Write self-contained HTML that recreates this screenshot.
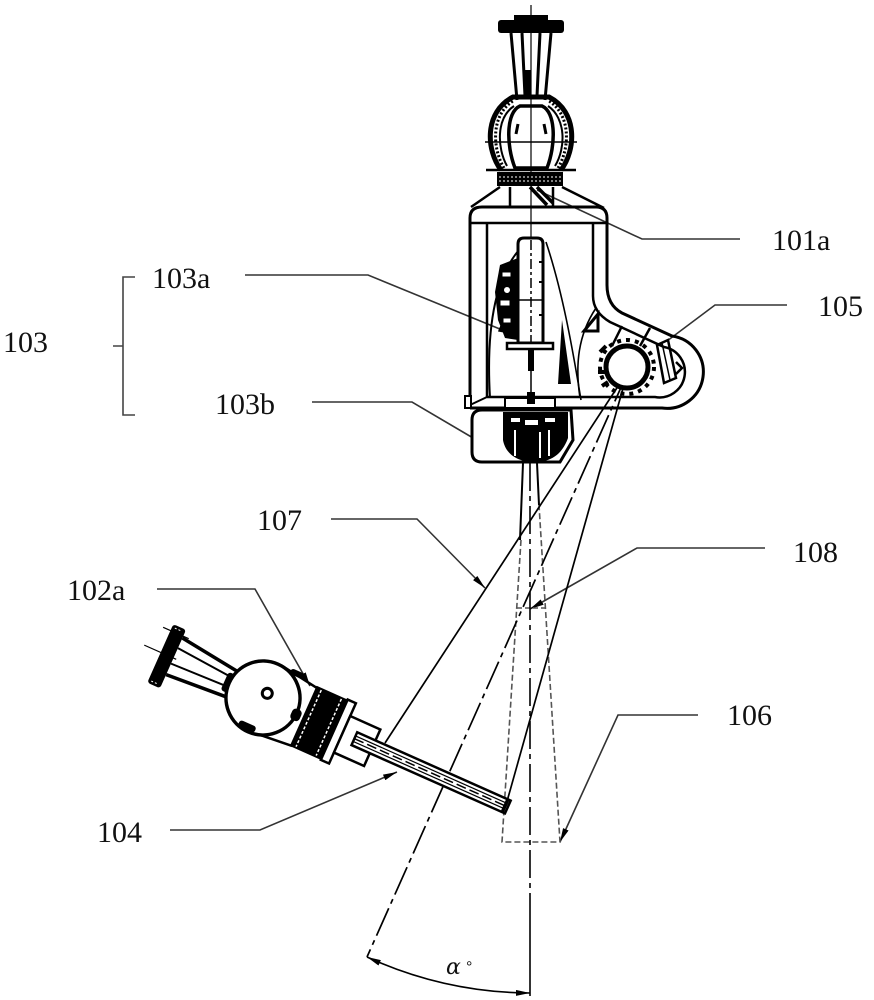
<!DOCTYPE html>
<html><head><meta charset="utf-8"><style>
html,body{margin:0;padding:0;background:#fff;}
svg{display:block}
.lb{font-family:"Liberation Serif",serif;font-size:30px;fill:#111}
</style></head><body>
<svg width="874" height="1000" viewBox="0 0 874 1000" xmlns="http://www.w3.org/2000/svg">
<defs>
<marker id="ah" markerUnits="userSpaceOnUse" viewBox="0 0 14 6" refX="14" refY="3" markerWidth="14" markerHeight="6" orient="auto-start-reverse"><path d="M0,0 L14,3 L0,6 Z" fill="#000"/></marker>
</defs>
<rect width="874" height="1000" fill="#fff"/>

<!-- ===== Labels ===== -->
<text class="lb" x="772" y="250">101a</text>
<text class="lb" x="818" y="316">105</text>
<text class="lb" x="152" y="288">103a</text>
<text class="lb" x="3" y="352">103</text>
<text class="lb" x="215" y="414">103b</text>
<text class="lb" x="257" y="530">107</text>
<text class="lb" x="67" y="600">102a</text>
<text class="lb" x="97" y="842">104</text>
<text class="lb" x="793" y="562">108</text>
<text class="lb" x="727" y="725">106</text>

<!-- brace -->
<path d="M135,277 L123,277 L123,415 L135,415 M123,346 L113,346" stroke="#444" stroke-width="1.6" fill="none"/>

<!-- leaders -->
<g stroke="#333" stroke-width="1.6" fill="none">
<path d="M740,239 L642,239 L537,190"/>
<path d="M787,305 L715,305 L667,341"/>
<path d="M245,275 L368,275 L512,334" marker-end="url(#ah)"/>
<path d="M312,402 L412,402 L485,445" marker-end="url(#ah)"/>
<path d="M331,519 L417,519 L485,588" marker-end="url(#ah)"/>
<path d="M157,589 L255,589 L310,686" marker-end="url(#ah)"/>
<path d="M170,830 L260,830 L397,772" marker-end="url(#ah)"/>
<path d="M765,548 L637,548 L530,609" marker-end="url(#ah)"/>
<path d="M698,715 L618,715 L560,842" marker-end="url(#ah)"/>
</g>

<!-- ===== beams / rays ===== -->
<g fill="none">
<path d="M523,463 L520,540 M537,463 L539,505" stroke="#000" stroke-width="2"/>
<path d="M521,540 L502,842 L560,842 L539,505" stroke="#555" stroke-width="1.6" stroke-dasharray="6,3"/>
<path d="M517,608 L547,608" stroke="#555" stroke-width="1.6" stroke-dasharray="5,3"/>
<path d="M530,463 L530,895" stroke="#000" stroke-width="1.6" stroke-dasharray="28,5,5,5"/>
<path d="M530,895 L530,996" stroke="#000" stroke-width="1.6"/>
<path d="M626,374 L385,743" stroke="#000" stroke-width="1.7"/>
<path d="M627,374 L506,805" stroke="#000" stroke-width="1.7"/>
<path d="M627,374 L367,957" stroke="#000" stroke-width="1.7" stroke-dasharray="30,5,5,5"/>
<path d="M367,957 A397,397 0 0 0 530,993" stroke="#000" stroke-width="1.6" marker-start="url(#ah)" marker-end="url(#ah)"/>
</g>
<text x="446" y="974" font-family="DejaVu Serif, serif" font-style="italic" font-size="22" fill="#111">α</text>
<text x="466" y="972" font-family="Liberation Sans, sans-serif" font-size="16" fill="#111">°</text>

<!-- ===== Top device ===== -->
<g stroke="#000" fill="none">
<line x1="531" y1="5" x2="531" y2="240" stroke-width="1.2"/>
<rect x="514" y="15" width="34" height="5" fill="#000" stroke="none"/>
<rect x="498" y="20" width="66" height="13" rx="3" fill="#000" stroke="none"/>
<path d="M511,33 L517,100 M522,33 L525,96 M551,33 L545,100 M540,33 L537,96" stroke-width="3"/>
<rect x="524" y="70" width="7" height="25" fill="#000" stroke="none"/>
<!-- clevis -->
<path d="M501,170 C486,150 484,112 513,97 L549,97 C578,112 576,150 561,170" stroke-width="5"/>
<path d="M507,166 C497,148 496,118 514,106 M555,166 C566,148 566,118 548,106" stroke-width="2"/>
<path d="M504,168 C492,148 491,115 513,101 M558,168 C570,148 571,115 549,101" stroke-width="3" stroke-dasharray="2,2"/>
<path d="M515,168 C506,145 506,112 520,106 L542,106 C556,112 556,145 547,168 Z" stroke-width="3.5" fill="#fff"/>
<line x1="531" y1="106" x2="531" y2="168" stroke-width="1.2"/>
<path d="M518,124 L516,134 M544,124 L546,134" stroke-width="3"/>
<path d="M485,142 L577,142" stroke-width="1.5"/>
<path d="M486,170 L576,170" stroke-width="2.5"/>
<rect x="497" y="172" width="66" height="14" fill="#000" stroke="none"/>
<path d="M499,177 L561,177 M499,181 L561,181" stroke="#fff" stroke-width="1" stroke-dasharray="2,2"/>
<path d="M500,187 L471,207 M562,187 L604,208 M510,187 L510,207 M553,187 L553,207" stroke-width="2.5"/>
<path d="M530,187 L547,205 M537,187 L553,203" stroke-width="3.5"/>
<!-- box -->
<path d="M470,218 Q470,207 482,207 L596,207 Q607,207 607,218 L607,285" stroke-width="3"/>
<path d="M470,223 L607,223" stroke-width="2.5"/>
<path d="M470,218 L470,405" stroke-width="3"/>
<path d="M487,223 L487,397" stroke-width="2.5"/>
<path d="M593,223 L593,296" stroke-width="2.5"/>
<!-- lobe -->
<path d="M607,285 Q607,305 622,313 L672,336 A36,36 0 0 1 662,408 L470,408" stroke-width="3"/>
<path d="M593,296 Q593,312 610,322 L664,347 A25,25 0 0 1 655,397 L487,397" stroke-width="2.5"/>
<path d="M470,405 L487,397" stroke-width="2"/>
<rect x="465" y="396" width="6" height="12" stroke-width="2" fill="#fff"/>
<path d="M580,398 C575,365 578,335 596,308" stroke-width="1.6"/>
<path d="M584,331 L598,314 L598,331 Z" stroke-width="3"/>
<circle cx="627" cy="367" r="27" stroke-width="4" stroke-dasharray="4,5"/>
<circle cx="627" cy="367" r="21" stroke-width="5" fill="#fff"/>
<path d="M600,352 L606,346 M598,372 L605,372 M602,386 L608,382" stroke-width="4"/>
<path d="M640,346 L650,328 M612,346 L622,326" stroke-width="2.5"/>
<path d="M657,345 L668,340 L676,378 L664,383 Z" stroke-width="2.5"/>
<path d="M662,343 L670,380" stroke-width="1.5"/>
<path d="M676,362 L682,368 L676,374" stroke-width="2.5"/>
<!-- 103a interior -->
<path d="M490,398 C486,330 494,265 532,238" stroke-width="2"/>
<path d="M546,242 C562,290 572,345 581,400" stroke-width="1.6"/>
<path d="M518,244 Q518,238 524,238 L537,238 Q543,238 543,244 L543,343 L518,343 Z" stroke-width="3" fill="#fff"/>
<line x1="531" y1="240" x2="531" y2="343" stroke-width="1.5" stroke-dasharray="10,3,3,3"/>
<path d="M518,300 L543,300" stroke-width="1.5"/>
<path d="M543,262 L539,262 M543,282 L539,282 M543,315 L539,315" stroke-width="2"/>
<path d="M500,265 L518,258 L518,340 L505,338 L498,320 L495,292 Z" fill="#000" stroke="none"/>
<rect x="502" y="272" width="9" height="5" fill="#fff"/>
<circle cx="507" cy="290" r="3" fill="#fff" stroke="none"/>
<rect x="500" y="300" width="10" height="6" fill="#fff"/>
<rect x="503" y="318" width="8" height="5" fill="#fff"/>
<rect x="507" y="343" width="46" height="6" stroke-width="2.5" fill="#fff"/>
<rect x="528" y="349" width="6" height="22" fill="#000" stroke="none"/>
<path d="M531,371 L531,397" stroke-width="1.5"/>
<path d="M562,320 L558,384 L571,384 Z" fill="#000" stroke="none"/>
<!-- 103b -->
<rect x="505" y="398" width="50" height="10" stroke-width="2" fill="#fff"/>
<rect x="527" y="392" width="8" height="12" fill="#000" stroke="none"/>
<path d="M472,420 Q472,410 482,410 L571,410 L573,440 L560,462 L482,462 Q472,462 472,452 Z" stroke-width="3" fill="#fff"/>
<path d="M503,412 L568,412 L568,438 C562,455 550,462 535,462 C515,462 505,452 503,440 Z" fill="#000" stroke="none"/>
<rect x="511" y="418" width="9" height="4" fill="#fff" stroke="none"/>
<rect x="545" y="418" width="10" height="4" fill="#fff" stroke="none"/>
<rect x="525" y="420" width="13" height="5" fill="#fff" stroke="none"/>
<path d="M515,430 L515,456 M549,430 L549,456 M540,432 L540,458" stroke="#fff" stroke-width="2"/>
</g>

<!-- ===== 102a device ===== -->
<g transform="translate(263,698) rotate(24)" stroke="#000" fill="none">
<line x1="-130" y1="0" x2="-95" y2="0" stroke-width="1.2"/>
<line x1="-120" y1="-24" x2="-92" y2="-24" stroke-width="1.2"/>
<rect x="-112" y="-31" width="14" height="64" rx="3" fill="#000" stroke="none"/>
<path d="M-109,-28 L-101,-28 M-109,30 L-101,30" stroke="#fff" stroke-width="1" stroke-dasharray="2,2"/>
<path d="M-98,-22 L-35,-14 M-98,18 L-35,14" stroke-width="3.5"/>
<path d="M-98,-11 L-36,-6 M-98,6 L-36,4" stroke-width="2"/>
<rect x="-42" y="-10" width="8" height="20" rx="3" fill="#000" stroke="none"/>
<path d="M5,-37 L46,-31 M12,35 L46,32" stroke-width="2.5"/>
<circle r="37" fill="#fff" stroke-width="3.5"/>
<circle cx="2" cy="-6" r="5" stroke-width="3"/>
<rect x="14" y="-39" width="16" height="6" rx="3" fill="#000" stroke="none"/>
<rect x="-12" y="29" width="18" height="7" rx="3" fill="#000" stroke="none"/>
<rect x="32" y="-4" width="10" height="12" rx="4" fill="#000" stroke="none"/>
<rect x="44" y="-33" width="34" height="66" fill="#000" stroke="none"/>
<path d="M50,-31 L50,31 M72,-31 L72,31" stroke="#fff" stroke-width="1.5" stroke-dasharray="3,2"/>
<rect x="78" y="-33" width="9" height="66" fill="#fff" stroke-width="2.5"/>
<rect x="87" y="-19" width="33" height="40" fill="#fff" stroke-width="2.5"/>
<rect x="100" y="-7" width="168" height="14" fill="#fff" stroke-width="2.5"/>
<path d="M100,-3 L266,-3 M100,3 L266,3" stroke-width="1.2"/>
<line x1="100" y1="0" x2="266" y2="0" stroke-width="1.5" stroke-dasharray="10,4"/>
<line x1="265" y1="-8" x2="265" y2="8" stroke-width="3.5"/>
</g>
</svg>
</body></html>
